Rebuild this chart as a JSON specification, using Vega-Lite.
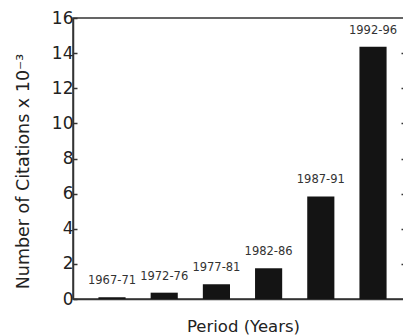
{
  "$schema": "https://vega.github.io/schema/vega-lite/v6.json",
  "width": 332,
  "height": 281,
  "autosize": {"type": "none"},
  "padding": {"left": 73, "top": 18, "right": 0, "bottom": 36},
  "background": "white",
  "config": {
    "view": {"stroke": "#333", "strokeWidth": 1.5},
    "font": "DejaVu Sans"
  },
  "data": {
    "values": [
      {"period": "1967-71", "citations": 0.1},
      {"period": "1972-76", "citations": 0.36},
      {"period": "1977-81", "citations": 0.84},
      {"period": "1982-86", "citations": 1.75},
      {"period": "1987-91", "citations": 5.84},
      {"period": "1992-96", "citations": 14.37}
    ]
  },
  "encoding": {
    "x": {
      "field": "period",
      "type": "nominal",
      "sort": null,
      "scale": {"paddingInner": 0.48, "paddingOuter": 0.42, "align": 0.58},
      "axis": {
        "labels": false,
        "ticks": false,
        "domain": true,
        "domainColor": "#333",
        "domainWidth": 1.5,
        "title": "Period (Years)",
        "titleFont": "DejaVu Sans",
        "titleFontSize": 16.5,
        "titleFontWeight": "normal",
        "titleColor": "#222",
        "titlePadding": 19,
        "titleX": 170
      }
    },
    "y": {
      "field": "citations",
      "type": "quantitative",
      "scale": {"domain": [0, 16], "nice": false}
    }
  },
  "layer": [
    {
      "mark": {"type": "bar", "color": "#141414"},
      "encoding": {
        "y": {
          "field": "citations",
          "type": "quantitative",
          "scale": {"domain": [0, 16], "nice": false},
          "axis": {
            "values": [0, 2, 4, 6, 8, 10, 12, 14, 16],
            "grid": false,
            "tickSize": -4,
            "tickColor": "#333",
            "tickWidth": 1.5,
            "domainColor": "#333",
            "domainWidth": 1.5,
            "labelFont": "DejaVu Sans",
            "labelFontSize": 17,
            "labelColor": "#222",
            "labelPadding": 4,
            "title": "Number of Citations x 10⁻³",
            "titleFont": "DejaVu Sans",
            "titleFontSize": 17.5,
            "titleFontWeight": "normal",
            "titleColor": "#222",
            "titlePadding": 19,
            "titleY": 153
          }
        }
      }
    },
    {
      "mark": {"type": "text", "baseline": "bottom", "dy": -11, "fontSize": 11.5, "color": "#333", "font": "DejaVu Sans"},
      "encoding": {
        "text": {"field": "period"},
        "y": {
          "field": "citations",
          "type": "quantitative",
          "scale": {"domain": [0, 16], "nice": false},
          "axis": {
            "orient": "right",
            "values": [2, 4, 6, 8, 10, 12, 14],
            "labels": false,
            "grid": false,
            "tickSize": -4,
            "tickColor": "#333",
            "tickWidth": 1.5,
            "domainColor": "#333",
            "domainWidth": 1.5,
            "title": null
          }
        }
      }
    }
  ],
  "resolve": {"axis": {"y": "independent"}}
}
